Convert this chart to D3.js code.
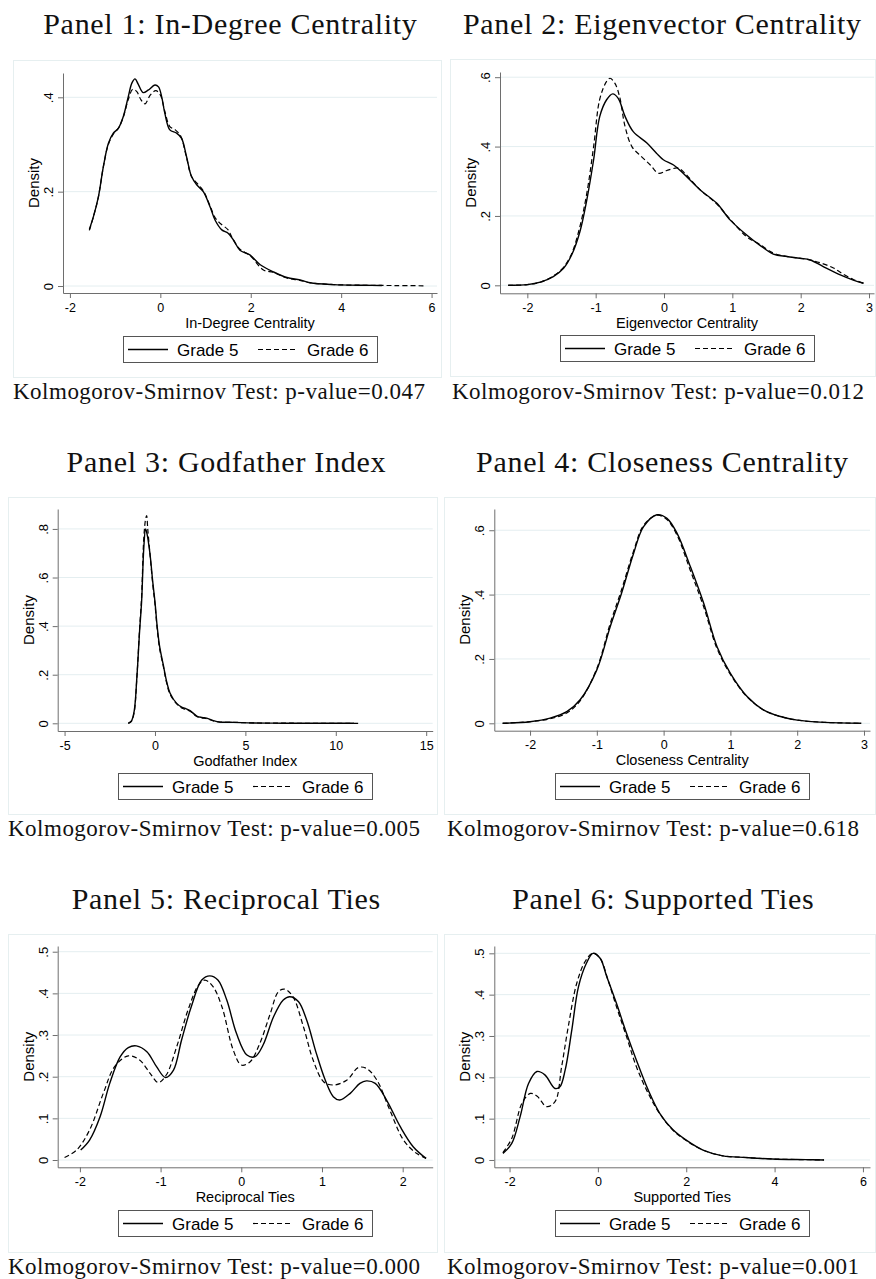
<!DOCTYPE html>
<html><head><meta charset="utf-8">
<script src="https://cdn.jsdelivr.net/npm/d3@7"></script>
<style>body{margin:0;background:#fff}</style>
</head><body>
<svg id="chart" width="876" height="1279"></svg>
<script>
// ---------------- DATA ----------------
const panelTitles = ["Panel 1: In-Degree Centrality","Panel 2: Eigenvector Centrality","Panel 3: Godfather Index","Panel 4: Closeness Centrality","Panel 5: Reciprocal Ties","Panel 6: Supported Ties"];
const xTitles = ["In-Degree Centrality","Eigenvector Centrality","Godfather Index","Closeness Centrality","Reciprocal Ties","Supported Ties"];
const ksPValues = ["0.047","0.012","0.005","0.618","0.000","0.001"];
const seriesNames = ["Grade 5","Grade 6"];

const xTickValues = [[-2,0,2,4,6],[-2,-1,0,1,2,3],[-5,0,5,10,15],[-2,-1,0,1,2,3],[-2,-1,0,1,2],[-2,0,2,4,6]];
const xTickLabels = [["-2","0","2","4","6"],["-2","-1","0","1","2","3"],["-5","0","5","10","15"],["-2","-1","0","1","2","3"],["-2","-1","0","1","2"],["-2","0","2","4","6"]];
const yTickValues = [[0,0.2,0.4],[0,0.2,0.4,0.6],[0,0.2,0.4,0.6,0.8],[0,0.2,0.4,0.6],[0,0.1,0.2,0.3,0.4,0.5],[0,0.1,0.2,0.3,0.4,0.5]];
const yTickLabels = [["0",".2",".4"],["0",".2",".4",".6"],["0",".2",".4",".6",".8"],["0",".2",".4",".6"],["0",".1",".2",".3",".4",".5"],["0",".1",".2",".3",".4",".5"]];

// Panel 1: In-Degree
const inDegreeG5 = [[-1.57,0.120],[-1.48,0.147],[-1.37,0.189],[-1.26,0.253],[-1.15,0.302],[-1.04,0.324],[-0.93,0.334],[-0.82,0.359],[-0.71,0.401],[-0.63,0.430],[-0.56,0.439],[-0.49,0.428],[-0.38,0.410],[-0.27,0.415],[-0.12,0.426],[-0.04,0.422],[0.03,0.401],[0.10,0.366],[0.21,0.331],[0.36,0.324],[0.47,0.313],[0.58,0.274],[0.69,0.232],[0.81,0.214],[0.95,0.200],[1.10,0.168],[1.21,0.140],[1.36,0.119],[1.50,0.112],[1.62,0.097],[1.76,0.076],[1.98,0.066],[2.21,0.045],[2.50,0.030],[2.80,0.018],[3.09,0.013],[3.31,0.007],[3.83,0.003],[4.56,0.0015],[4.90,0.001]];
const inDegreeG6 = [[-1.57,0.118],[-1.48,0.147],[-1.37,0.189],[-1.26,0.253],[-1.15,0.300],[-1.04,0.322],[-0.93,0.334],[-0.82,0.358],[-0.71,0.395],[-0.61,0.417],[-0.52,0.412],[-0.43,0.395],[-0.34,0.386],[-0.22,0.405],[-0.10,0.414],[0.00,0.405],[0.10,0.370],[0.21,0.338],[0.33,0.331],[0.45,0.318],[0.58,0.272],[0.69,0.232],[0.81,0.218],[0.95,0.202],[1.10,0.170],[1.21,0.145],[1.32,0.133],[1.50,0.119],[1.58,0.104],[1.76,0.078],[1.98,0.065],[2.28,0.034],[2.50,0.029],[2.80,0.017],[3.09,0.012],[3.31,0.007],[3.83,0.003],[4.56,0.0015],[5.20,0.001],[5.82,0.0005]];

// Panel 2: Eigenvector
const eigenG5 = [[-2.28,0],[-2.0,0.002],[-1.81,0.009],[-1.62,0.025],[-1.47,0.049],[-1.35,0.088],[-1.23,0.155],[-1.13,0.246],[-1.03,0.362],[-0.94,0.487],[-0.84,0.535],[-0.75,0.552],[-0.67,0.539],[-0.57,0.487],[-0.45,0.443],[-0.25,0.410],[-0.11,0.381],[-0.01,0.362],[0.14,0.347],[0.28,0.323],[0.53,0.275],[0.77,0.237],[0.97,0.188],[1.21,0.145],[1.40,0.116],[1.60,0.090],[1.80,0.083],[1.99,0.078],[2.14,0.073],[2.33,0.054],[2.58,0.030],[2.77,0.015],[2.92,0.006]];
const eigenG6 = [[-2.28,0],[-2.0,0.002],[-1.81,0.009],[-1.62,0.027],[-1.47,0.052],[-1.35,0.092],[-1.23,0.170],[-1.13,0.265],[-1.03,0.400],[-0.94,0.537],[-0.84,0.588],[-0.79,0.597],[-0.72,0.583],[-0.65,0.544],[-0.57,0.458],[-0.47,0.400],[-0.33,0.371],[-0.20,0.347],[-0.08,0.323],[0.04,0.331],[0.21,0.338],[0.30,0.324],[0.53,0.275],[0.77,0.235],[0.97,0.190],[1.21,0.140],[1.40,0.118],[1.60,0.093],[1.80,0.083],[1.99,0.078],[2.14,0.073],[2.33,0.062],[2.48,0.050],[2.60,0.035],[2.77,0.017],[2.92,0.006]];

// Panel 3: Godfather
const godfatherG5 = [[-1.48,0],[-1.30,0.010],[-1.15,0.050],[-1.00,0.190],[-0.85,0.380],[-0.74,0.500],[-0.62,0.720],[-0.52,0.800],[-0.44,0.780],[-0.28,0.700],[-0.12,0.580],[0.00,0.500],[0.12,0.400],[0.25,0.320],[0.46,0.240],[0.65,0.170],[0.83,0.125],[1.20,0.082],[1.50,0.066],[1.66,0.062],[1.94,0.052],[2.31,0.030],[2.60,0.024],[2.86,0.021],[3.23,0.011],[3.60,0.005],[4.34,0.004],[5.44,0.0014],[7.00,0.0005],[11.0,0]];
const godfatherG6 = [[-1.48,0],[-1.30,0.008],[-1.15,0.045],[-1.00,0.190],[-0.85,0.390],[-0.74,0.520],[-0.62,0.760],[-0.52,0.840],[-0.46,0.855],[-0.40,0.800],[-0.28,0.700],[-0.12,0.570],[0.00,0.490],[0.12,0.390],[0.25,0.310],[0.46,0.235],[0.65,0.165],[0.83,0.120],[1.20,0.080],[1.50,0.062],[1.66,0.058],[1.94,0.050],[2.31,0.028],[2.60,0.022],[2.86,0.019],[3.23,0.010],[3.60,0.005],[4.34,0.004],[5.44,0.0015],[7.00,0.0005],[11.4,0]];

// Panel 4: Closeness
const closenessG5 = [[-2.41,0],[-2.0,0.005],[-1.7,0.016],[-1.45,0.036],[-1.25,0.073],[-1.0,0.166],[-0.8,0.300],[-0.63,0.404],[-0.45,0.528],[-0.30,0.611],[-0.10,0.648],[0.05,0.637],[0.20,0.591],[0.40,0.487],[0.60,0.373],[0.80,0.238],[1.0,0.155],[1.25,0.083],[1.5,0.041],[1.75,0.021],[2.0,0.010],[2.4,0.003],[2.96,0]];
const closenessG6 = [[-2.41,0],[-2.0,0.005],[-1.7,0.014],[-1.45,0.032],[-1.25,0.070],[-1.0,0.170],[-0.8,0.310],[-0.63,0.415],[-0.45,0.535],[-0.30,0.615],[-0.10,0.647],[0.05,0.633],[0.20,0.585],[0.40,0.475],[0.60,0.362],[0.80,0.232],[1.0,0.152],[1.25,0.082],[1.5,0.041],[1.75,0.021],[2.0,0.010],[2.4,0.003],[2.96,0]];

// Panel 5: Reciprocal
const reciprocalG5 = [[-1.99,0.024],[-1.88,0.048],[-1.75,0.104],[-1.63,0.184],[-1.50,0.248],[-1.40,0.270],[-1.30,0.274],[-1.17,0.260],[-1.05,0.224],[-0.94,0.198],[-0.84,0.216],[-0.74,0.288],[-0.62,0.368],[-0.49,0.432],[-0.39,0.442],[-0.29,0.432],[-0.18,0.384],[-0.06,0.304],[0.07,0.252],[0.17,0.248],[0.27,0.276],[0.40,0.344],[0.52,0.384],[0.60,0.392],[0.71,0.380],[0.81,0.336],[0.93,0.256],[1.04,0.192],[1.14,0.152],[1.22,0.144],[1.35,0.160],[1.47,0.184],[1.55,0.190],[1.66,0.184],[1.80,0.144],[1.97,0.080],[2.13,0.032],[2.29,0.004]];
const reciprocalG6 = [[-2.19,0.006],[-2.04,0.024],[-1.88,0.072],[-1.71,0.160],[-1.57,0.224],[-1.40,0.250],[-1.26,0.240],[-1.13,0.208],[-1.03,0.186],[-0.93,0.204],[-0.80,0.272],[-0.66,0.360],[-0.53,0.420],[-0.45,0.432],[-0.35,0.416],[-0.24,0.368],[-0.10,0.264],[0.00,0.228],[0.11,0.236],[0.23,0.280],[0.36,0.352],[0.46,0.404],[0.54,0.410],[0.64,0.392],[0.77,0.320],[0.89,0.240],[1.02,0.188],[1.14,0.180],[1.31,0.192],[1.45,0.222],[1.55,0.220],[1.68,0.192],[1.84,0.120],[2.01,0.048],[2.17,0.016],[2.29,0.004]];

// Panel 6: Supported
const supportedG5 = [[-2.15,0.016],[-1.95,0.040],[-1.76,0.105],[-1.57,0.185],[-1.38,0.214],[-1.20,0.206],[-0.97,0.173],[-0.86,0.177],[-0.74,0.218],[-0.59,0.315],[-0.44,0.419],[-0.26,0.476],[-0.11,0.500],[0.05,0.488],[0.20,0.444],[0.42,0.379],[0.65,0.306],[0.87,0.242],[1.14,0.169],[1.40,0.113],[1.70,0.073],[2.00,0.048],[2.38,0.024],[2.83,0.010],[3.35,0.006],[3.95,0.0024],[4.71,0.0008],[5.12,0]];
const supportedG6 = [[-2.15,0.018],[-1.95,0.052],[-1.72,0.137],[-1.53,0.161],[-1.38,0.155],[-1.16,0.129],[-0.97,0.141],[-0.82,0.226],[-0.67,0.323],[-0.48,0.427],[-0.29,0.480],[-0.12,0.500],[0.05,0.488],[0.23,0.435],[0.42,0.371],[0.65,0.298],[0.87,0.226],[1.14,0.161],[1.40,0.112],[1.70,0.072],[2.00,0.047],[2.38,0.024],[2.83,0.010],[3.35,0.006],[3.95,0.0024],[4.71,0.0008],[5.12,0]];

const seriesByPanel = [[inDegreeG5,inDegreeG6],[eigenG5,eigenG6],[godfatherG5,godfatherG6],[closenessG5,closenessG6],[reciprocalG5,reciprocalG6],[supportedG5,supportedG6]];

// ---------------- LAYOUT ----------------
const layout = [
  {box:[13,60,441,377], plot:[63,73,437,293], xDom:[-2.153,6.12], yDom:[-0.0148,0.4515], legend:[123,336], titleX:230, titleY:34, ksX:13, ksY:399},
  {box:[450,59,875,376], plot:[500,72,874,293.3], xDom:[-2.40,3.073], yDom:[-0.023,0.615], legend:[560,335], titleX:662, titleY:34, ksX:452, ksY:399},
  {box:[8,497,437,814], plot:[57.7,509,432.7,731], xDom:[-5.38,15.36], yDom:[-0.0317,0.882], legend:[118,773], titleX:226, titleY:472, ksX:8, ksY:836},
  {box:[444,497,875,814], plot:[494.3,509,870,730.7], xDom:[-2.535,3.09], yDom:[-0.023,0.666], legend:[555,773], titleX:662, titleY:472, ksX:447, ksY:836},
  {box:[8,934,437,1252], plot:[57.7,946,432.7,1167.3], xDom:[-2.275,2.372], yDom:[-0.0175,0.5137], legend:[118,1210], titleX:226, titleY:909, ksX:8, ksY:1274},
  {box:[444,934,875,1252], plot:[494.3,946,870,1167.3], xDom:[-2.345,6.16], yDom:[-0.0177,0.5177], legend:[555,1210], titleX:663, titleY:909, ksX:447, ksY:1274}
];

const SANS = "'Liberation Sans', Arial, sans-serif";
const SERIF = "'Liberation Serif', 'Times New Roman', serif";
const gridColor = "#e4eef0";
const axisColor = "#6e6e6e";

const svg = d3.select("#chart");

layout.forEach((L, i) => {
  const g = svg.append("g");
  // outer panel box
  g.append("rect").attr("x", L.box[0]+0.5).attr("y", L.box[1]+0.5)
    .attr("width", L.box[2]-L.box[0]).attr("height", L.box[3]-L.box[1])
    .attr("fill", "none").attr("stroke", "#e6eff0").attr("stroke-width", 1);

  const [left, top, right, bottom] = L.plot;
  const x = d3.scaleLinear().domain(L.xDom).range([left, right]);
  const y = d3.scaleLinear().domain(L.yDom).range([bottom, top]);

  // gridlines
  g.append("g").selectAll("line").data(yTickValues[i]).join("line")
    .attr("x1", left).attr("x2", right)
    .attr("y1", d => y(d)).attr("y2", d => y(d))
    .attr("stroke", gridColor).attr("stroke-width", 1);

  // y axis
  const ya = g.append("g").attr("transform", `translate(${left},0)`)
    .call(d3.axisLeft(y).tickValues(yTickValues[i]).tickFormat((d, k) => yTickLabels[i][k]).tickSizeInner(5).tickSizeOuter(0));
  ya.select(".domain").attr("stroke", axisColor);
  ya.selectAll(".tick line").attr("stroke", axisColor);
  ya.selectAll(".tick text").attr("transform", "rotate(-90)").attr("x", 0).attr("y", -10).attr("dy", 0)
    .attr("text-anchor", "middle").style("font-family", SANS).style("font-size", "13px").attr("fill", "#000");

  // x axis
  const xa = g.append("g").attr("transform", `translate(0,${bottom})`)
    .call(d3.axisBottom(x).tickValues(xTickValues[i]).tickFormat((d, k) => xTickLabels[i][k]).tickSizeInner(5).tickSizeOuter(0));
  xa.select(".domain").attr("stroke", axisColor);
  xa.selectAll(".tick line").attr("stroke", axisColor);
  xa.selectAll(".tick text").attr("y", 18.5).attr("dy", 0)
    .style("font-family", SANS).style("font-size", "12.5px").attr("fill", "#000");

  // axis titles
  g.append("text").attr("x", (left + right) / 2).attr("y", bottom + 34.5)
    .attr("text-anchor", "middle").style("font-family", SANS).style("font-size", "14.5px").text(xTitles[i]);
  g.append("text").attr("transform", `translate(${left - 24},${(top + bottom) / 2}) rotate(-90)`)
    .attr("text-anchor", "middle").style("font-family", SANS).style("font-size", "15px").text("Density");

  // curves
  const line = d3.line().x(d => x(d[0])).y(d => y(d[1])).curve(d3.curveCatmullRom.alpha(0.5));
  const [s5, s6] = seriesByPanel[i];
  g.append("path").datum(s6).attr("d", line).attr("fill", "none").attr("stroke", "#000")
    .attr("stroke-width", 1.2).attr("stroke-dasharray", "5,3");
  g.append("path").datum(s5).attr("d", line).attr("fill", "none").attr("stroke", "#000")
    .attr("stroke-width", 1.4);

  // legend
  const [lx, ly] = L.legend;
  const lg = g.append("g").attr("transform", `translate(${lx},${ly})`);
  lg.append("rect").attr("x", 0.5).attr("y", 0.5).attr("width", 254).attr("height", 26)
    .attr("fill", "#fff").attr("stroke", "#555").attr("stroke-width", 1);
  lg.append("line").attr("x1", 5).attr("x2", 45).attr("y1", 13.5).attr("y2", 13.5)
    .attr("stroke", "#000").attr("stroke-width", 1.4);
  lg.append("text").attr("x", 54).attr("y", 20).style("font-family", SANS).style("font-size", "17px").text(seriesNames[0]);
  lg.append("line").attr("x1", 135).attr("x2", 175).attr("y1", 13.5).attr("y2", 13.5)
    .attr("stroke", "#000").attr("stroke-width", 1.2).attr("stroke-dasharray", "5,3");
  lg.append("text").attr("x", 184).attr("y", 20).style("font-family", SANS).style("font-size", "17px").text(seriesNames[1]);

  // panel title
  const t = g.append("text").attr("x", L.titleX).attr("y", L.titleY).attr("text-anchor", "middle")
    .style("font-family", SERIF).style("font-size", "30px").attr("fill", "#111").text(panelTitles[i]);
  const natural = t.node().getComputedTextLength();
  t.attr("textLength", natural * 1.055).attr("lengthAdjust", "spacing");

  // KS test text
  g.append("text").attr("x", L.ksX).attr("y", L.ksY)
    .style("font-family", SERIF).style("font-size", "23px").attr("fill", "#111")
    .attr("textLength", 412).attr("lengthAdjust", "spacing")
    .text("Kolmogorov-Smirnov Test: p-value=" + ksPValues[i]);
});
</script>
</body></html>
